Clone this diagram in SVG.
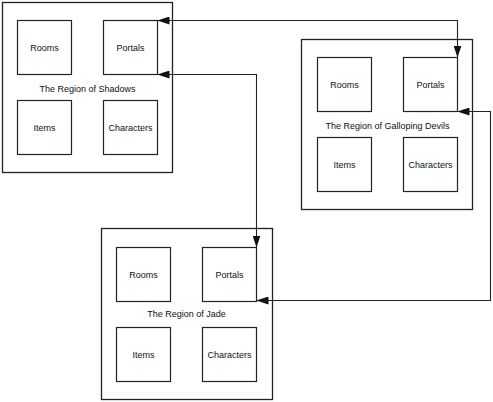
<svg xmlns="http://www.w3.org/2000/svg" width="493" height="402" viewBox="0 0 493 402">
<style>
.region{fill:#fff;stroke:#222;stroke-width:1.3}
.box{fill:#fff;stroke:#222;stroke-width:1.2}
text{font-family:"Liberation Sans",Arial,sans-serif;font-size:9px;fill:#111;text-anchor:middle}
.conn{fill:none;stroke:#222;stroke-width:1.1;marker-start:url(#arr);marker-end:url(#arr)}
</style>
<defs>
<marker id="arr" viewBox="0 0 12 8" refX="12" refY="4" markerWidth="12" markerHeight="8" markerUnits="userSpaceOnUse" orient="auto-start-reverse">
<path d="M0,0 L12,4 L0,8 z" fill="#111"/>
</marker>
</defs>
<g id="region-shadows">
<rect class="region" x="2.5" y="2.5" width="170" height="170"/>
<text x="87.5" y="92">The Region of Shadows</text>
<g id="shadows-rooms"><rect class="box" x="17.5" y="20.5" width="54" height="54"/><text x="44.5" y="50.5">Rooms</text></g>
<g id="shadows-portals"><rect class="box" x="103.5" y="20.5" width="54" height="54"/><text x="130.5" y="50.5">Portals</text></g>
<g id="shadows-items"><rect class="box" x="17.5" y="100.5" width="54" height="54"/><text x="44.5" y="130.5">Items</text></g>
<g id="shadows-characters"><rect class="box" x="103.5" y="100.5" width="54" height="54"/><text x="130.5" y="130.5">Characters</text></g>
</g>
<g id="region-galloping">
<rect class="region" x="301.5" y="39.5" width="171" height="170"/>
<text x="387.5" y="129">The Region of Galloping Devils</text>
<g id="galloping-rooms"><rect class="box" x="317.5" y="57.5" width="54" height="54"/><text x="344.5" y="87.5">Rooms</text></g>
<g id="galloping-portals"><rect class="box" x="403.5" y="57.5" width="54" height="54"/><text x="430.5" y="87.5">Portals</text></g>
<g id="galloping-items"><rect class="box" x="317.5" y="137.5" width="54" height="54"/><text x="344.5" y="167.5">Items</text></g>
<g id="galloping-characters"><rect class="box" x="403.5" y="137.5" width="54" height="54"/><text x="430.5" y="167.5">Characters</text></g>
</g>
<g id="region-jade">
<rect class="region" x="101.5" y="228.5" width="171" height="171"/>
<text x="186.5" y="317">The Region of Jade</text>
<g id="jade-rooms"><rect class="box" x="116.5" y="247.5" width="54" height="54"/><text x="143.5" y="277.5">Rooms</text></g>
<g id="jade-portals"><rect class="box" x="202.5" y="247.5" width="54" height="54"/><text x="229.5" y="277.5">Portals</text></g>
<g id="jade-items"><rect class="box" x="116.5" y="327.5" width="54" height="54"/><text x="143.5" y="357.5">Items</text></g>
<g id="jade-characters"><rect class="box" x="202.5" y="327.5" width="54" height="54"/><text x="229.5" y="357.5">Characters</text></g>
</g>
<g id="connectors">
<path class="conn" d="M157.5,20.5 H457.5 V57.5"/>
<path class="conn" d="M457.5,111.5 H490.5 V300.5 H256.5"/>
<path class="conn" d="M157.5,74.5 H256.5 V247.5"/>
</g>
</svg>
